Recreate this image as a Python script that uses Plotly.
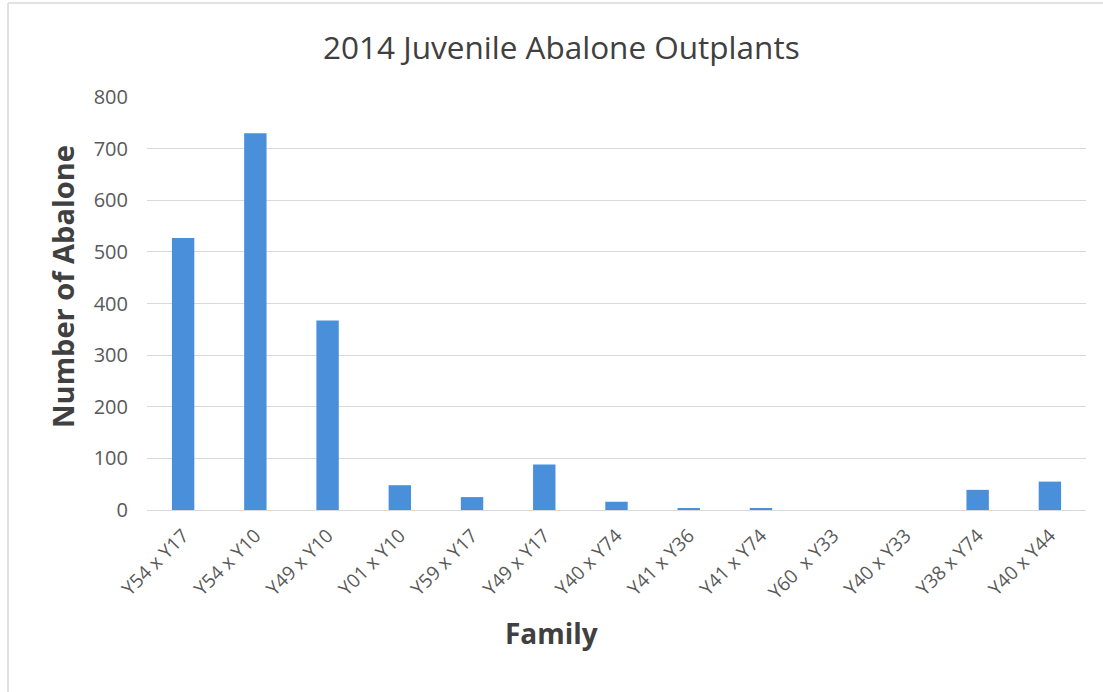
import plotly.graph_objects as go

families = ["Y54 x Y17", "Y54 x Y10", "Y49 x Y10", "Y01 x Y10", "Y59 x Y17", "Y49 x Y17",
            "Y40 x Y74", "Y41 x Y36", "Y41 x Y74", "Y60  x Y33", "Y40 x Y33", "Y38 x Y74", "Y40 x Y44"]
counts = [527, 730, 367, 48, 25, 88, 16, 2, 3, 0, 0, 39, 55]
y_ticks = [0, 100, 200, 300, 400, 500, 600, 700, 800]

W, H = 1103, 692
L, R, T, B = 147, 17, 97, 182
PW, PH = W - L - R, H - T - B


def px(x):
    return (x - L) / PW


def py(y):
    return (H - B - y) / PH


fig = go.Figure(go.Bar(x=families, y=counts, marker=dict(color="#4a8fda", line=dict(width=0))))

fig.update_layout(
    width=W, height=H,
    margin=dict(l=L, r=R, t=T, b=B),
    paper_bgcolor="white", plot_bgcolor="white",
    bargap=0.69,
    showlegend=False,
    font=dict(family="Open Sans", color="#595959"),
    shapes=[
        dict(type="line", xref="paper", yref="paper", x0=px(8), x1=px(1103), y0=py(3), y1=py(3),
             line=dict(color="#d9d9d9", width=1.5)),
        dict(type="line", xref="paper", yref="paper", x0=px(8), x1=px(8), y0=py(3), y1=py(692),
             line=dict(color="#d9d9d9", width=1.5)),
    ],
    annotations=[
        dict(text="2014 Juvenile Abalone Outplants", xref="paper", yref="paper",
             x=px(561), y=py(46), xanchor="center", yanchor="middle", showarrow=False,
             font=dict(size=31.5, color="#404040")),
        dict(text="<b>Number of Abalone</b>", xref="paper", yref="paper",
             x=px(62), y=py(287), xanchor="center", yanchor="middle", showarrow=False,
             textangle=-90, font=dict(size=29, color="#404040")),
        dict(text="<b>Family</b>", xref="paper", yref="paper",
             x=px(551), y=py(633), xanchor="center", yanchor="middle", showarrow=False,
             font=dict(size=28, color="#404040")),
    ],
)

fig.update_xaxes(
    tickangle=-45, tickfont=dict(size=19, color="#595959"),
    showgrid=False, showline=True, linecolor="#d9d9d9", linewidth=1,
    ticks="", ticklabelstandoff=6,
)
fig.update_yaxes(
    range=[0, 800], tickvals=y_ticks, tickfont=dict(size=20, color="#595959"),
    showgrid=True, gridcolor="#d9d9d9", gridwidth=1, zeroline=False,
    showline=False, ticks="", ticklabelstandoff=18,
)

fig.write_html("out.html")
